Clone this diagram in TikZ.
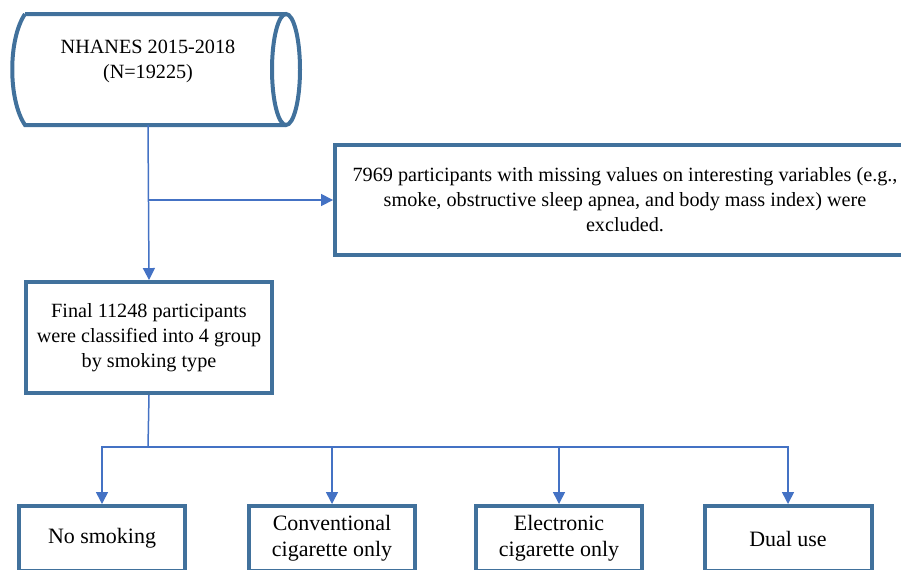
\documentclass[tikz,border=0pt]{standalone}
\usepackage{fontspec}
\setmainfont{Liberation Serif}
\usetikzlibrary{arrows.meta}

\definecolor{boxblue}{RGB}{65,113,156}
\definecolor{lineblue}{RGB}{68,114,196}

\begin{document}
\begin{tikzpicture}[
    x=0.02cm, y=-0.02cm,
    >={Triangle[length=0.24cm,width=0.24cm]},
    frame/.style={draw=boxblue, line width=0.08cm},
    stepbox/.style={frame, rectangle, align=center, inner sep=0pt,
        font=\fontsize{11.5}{14.2}\selectfont},
    groupbox/.style={frame, rectangle, align=center, inner sep=0pt,
        minimum width=3.34cm, minimum height=1.30cm,
        font=\fontsize{12.5}{14.7}\selectfont},
    link/.style={draw=lineblue, line width=0.03cm},
    arrow/.style={link, ->}
]

    \useasboundingbox (0,0) rectangle (901,569);

    % Source (stored data shape)
    \draw[frame] (25,14) -- (286,14)
        (286,125) -- (25,125)
        .. controls (8,100) and (8,39) .. (25,14);
    \draw[frame] (286,69.5) ellipse [x radius=14, y radius=55.5];
    \node[align=center, font=\fontsize{11.5}{14.2}\selectfont] (nhanes) at (148,61.5)
        {NHANES 2015-2018\\(N=19225)};
    \coordinate (nhanes-s) at (148,125);

    % Exclusion box (runs past the right edge)
    \node[stepbox, minimum width=11.6cm, minimum height=2.2cm] (excl) at (625,200)
        {7969 participants with missing values on interesting variables (e.g.,\\
         smoke, obstructive sleep apnea, and body mass index) were\\
         excluded.};

    % Final sample
    \node[stepbox, minimum width=4.92cm, minimum height=2.22cm] (final) at (149,337.5)
        {Final 11248 participants\\were classified into 4 group\\by smoking type};

    % Groups
    \node[groupbox] (none) at (102,538.5) {No smoking};
    \node[groupbox] (conv) at (332,538.5) {Conventional\\cigarette only};
    \node[groupbox] (elec) at (559,538.5) {Electronic\\cigarette only};
    \node[groupbox] (dual) at (788,538.5) {Dual use};

    % Connectors
    \coordinate (split1) at (148,200);
    \coordinate (split2) at (148,447);
    \draw[arrow] (nhanes-s) -- (final.north);
    \draw[arrow] (split1) -- (excl.west);
    \draw[link] (final.south) -- (split2);
    \foreach \g in {none,conv,elec,dual}
        \draw[arrow] (split2) -| (\g.north);

\end{tikzpicture}
\end{document}
